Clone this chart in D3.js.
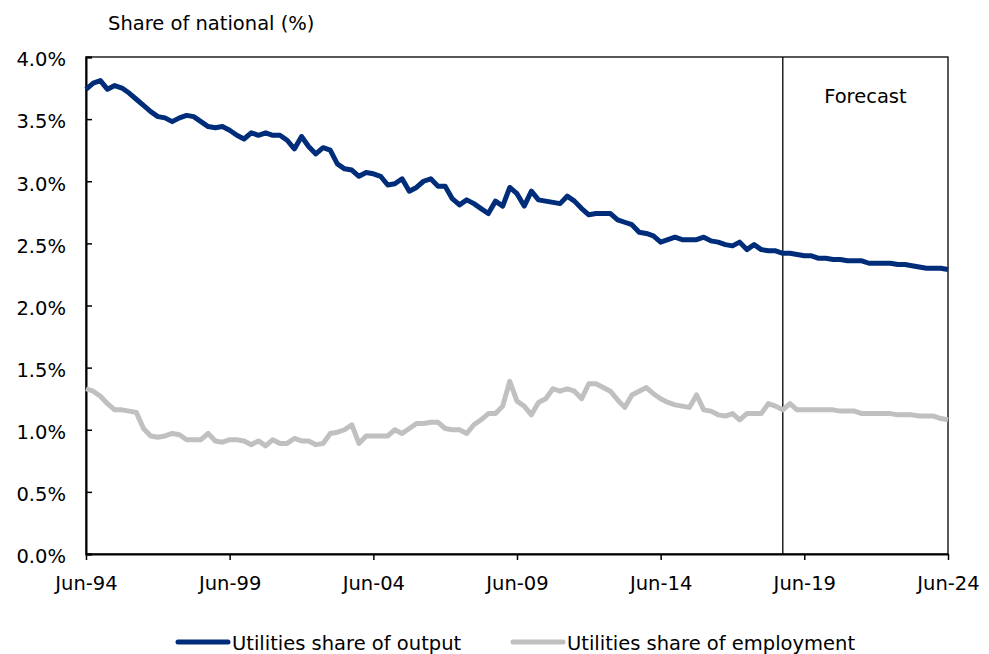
<!DOCTYPE html>
<html>
<head>
<meta charset="utf-8">
<script src="https://cdn.jsdelivr.net/npm/d3@7"></script>
<style>
  body { margin: 0; background: #fff; }
  svg text { font-family: "DejaVu Sans", Verdana, sans-serif; font-size: 19.5px; fill: #000; }
</style>
</head>
<body>
<script>
// quarterly, Jun-94 .. Jun-24
const startDate = new Date(1994, 5, 1);
const forecastStart = new Date(2018, 8, 1);

const outputShare = [
  3.74,3.79,3.81,3.74,3.77,3.75,3.71,3.66,3.61,3.56,
  3.52,3.51,3.48,3.51,3.53,3.52,3.48,3.44,3.43,3.44,
  3.41,3.37,3.34,3.39,3.37,3.39,3.37,3.37,3.33,3.26,
  3.36,3.28,3.22,3.27,3.25,3.14,3.10,3.09,3.04,3.07,
  3.06,3.04,2.97,2.98,3.02,2.92,2.95,3.00,3.02,2.96,
  2.96,2.86,2.81,2.85,2.82,2.78,2.74,2.84,2.80,2.95,
  2.90,2.80,2.92,2.85,2.84,2.83,2.82,2.88,2.84,2.78,
  2.73,2.74,2.74,2.74,2.69,2.67,2.65,2.59,2.58,2.56,
  2.51,2.53,2.55,2.53,2.53,2.53,2.55,2.52,2.51,2.49,
  2.48,2.51,2.45,2.49,2.45,2.44,2.44,2.42,2.42,2.41,
  2.40,2.40,2.38,2.38,2.37,2.37,2.36,2.36,2.36,2.34,
  2.34,2.34,2.34,2.33,2.33,2.32,2.31,2.30,2.30,2.30,
  2.29
];

const employmentShare = [
  1.33,1.31,1.27,1.21,1.16,1.16,1.15,1.14,1.01,0.95,
  0.94,0.95,0.97,0.96,0.92,0.92,0.92,0.97,0.91,0.90,
  0.92,0.92,0.91,0.88,0.91,0.87,0.92,0.89,0.89,0.93,
  0.91,0.91,0.88,0.89,0.97,0.98,1.00,1.04,0.89,0.95,
  0.95,0.95,0.95,1.00,0.97,1.01,1.05,1.05,1.06,1.06,
  1.01,1.00,1.00,0.97,1.04,1.08,1.13,1.13,1.19,1.39,
  1.23,1.19,1.12,1.22,1.25,1.33,1.31,1.33,1.31,1.25,
  1.37,1.37,1.34,1.31,1.24,1.18,1.28,1.31,1.34,1.29,
  1.25,1.22,1.20,1.19,1.18,1.28,1.16,1.15,1.12,1.11,
  1.13,1.08,1.13,1.13,1.13,1.21,1.19,1.16,1.21,1.16,
  1.16,1.16,1.16,1.16,1.16,1.15,1.15,1.15,1.13,1.13,
  1.13,1.13,1.13,1.12,1.12,1.12,1.11,1.11,1.11,1.09,
  1.08
];

const xTickYears = [1994, 1999, 2004, 2009, 2014, 2019, 2024];
const yTicks = [0, 0.5, 1.0, 1.5, 2.0, 2.5, 3.0, 3.5, 4.0];

const seriesNames = ['Utilities share of output', 'Utilities share of employment'];
const seriesColors = ['#002d7a', '#c0c0c0'];

const dates = outputShare.map((_, i) => d3.timeMonth.offset(startDate, 3 * i));

const W = 989, H = 654;
const plot = { left: 86, right: 948, top: 57, bottom: 554 };
const fontFamily = '"DejaVu Sans", Verdana, sans-serif';

const svg = d3.select('body').append('svg')
  .attr('width', W)
  .attr('height', H);

svg.append('rect').attr('width', W).attr('height', H).attr('fill', '#fff');

const x = d3.scaleTime()
  .domain([startDate, dates[dates.length - 1]])
  .range([plot.left, plot.right]);

const y = d3.scaleLinear()
  .domain([0, 4])
  .range([plot.bottom, plot.top]);

// plot frame
svg.append('rect')
  .attr('x', plot.left).attr('y', plot.top)
  .attr('width', plot.right - plot.left).attr('height', plot.bottom - plot.top)
  .attr('fill', 'none')
  .attr('stroke', '#000')
  .attr('stroke-width', 1.3);

// forecast divider
svg.append('line')
  .attr('x1', x(forecastStart)).attr('x2', x(forecastStart))
  .attr('y1', plot.top).attr('y2', plot.bottom)
  .attr('stroke', '#000')
  .attr('stroke-width', 1.3);

svg.append('text')
  .attr('x', (x(forecastStart) + plot.right) / 2)
  .attr('y', 103)
  .attr('text-anchor', 'middle')
  .text('Forecast');

// y axis, ticks point inward
const yAxis = svg.append('g')
  .attr('transform', `translate(${plot.left},0)`)
  .call(d3.axisLeft(y)
    .tickValues(yTicks)
    .tickSize(-6)
    .tickPadding(20)
    .tickFormat(d => d3.format('.1f')(d) + '%'));
yAxis.select('.domain').attr('stroke', '#000').attr('stroke-width', 2);
yAxis.selectAll('.tick line').attr('stroke', '#000').attr('stroke-width', 1.5);
yAxis.selectAll('text')
  .attr('x', 66 - plot.left)
  .attr('dy', '0.45em')
  .style('font-family', fontFamily)
  .style('font-size', '19.5px');

// x axis, ticks point outward
const xAxis = svg.append('g')
  .attr('transform', `translate(0,${plot.bottom})`)
  .call(d3.axisBottom(x)
    .tickValues(xTickYears.map(yr => new Date(yr, 5, 1)))
    .tickSize(6)
    .tickSizeOuter(0)
    .tickFormat(d3.timeFormat('%b-%y')));
xAxis.select('.domain').attr('stroke', '#000').attr('stroke-width', 2);
xAxis.selectAll('.tick line').attr('stroke', '#000').attr('stroke-width', 1.5);
xAxis.selectAll('text')
  .attr('y', 36)
  .attr('dy', 0)
  .style('font-family', fontFamily)
  .style('font-size', '19.5px');

// lines
const line = d3.line()
  .x((d, i) => x(dates[i]))
  .y(d => y(d));

[employmentShare, outputShare].forEach((vals, k) => {
  svg.append('path')
    .datum(vals)
    .attr('fill', 'none')
    .attr('stroke', seriesColors[1 - k])
    .attr('stroke-width', 5)
    .attr('stroke-linejoin', 'round')
    .attr('d', line);
});

// title
svg.append('text')
  .attr('x', 108)
  .attr('y', 30)
  .text('Share of national (%)');

// legend
const legendX = [178, 513];
seriesNames.forEach((name, i) => {
  const g = svg.append('g').attr('transform', `translate(${legendX[i]},642)`);
  g.append('line')
    .attr('x1', 0).attr('x2', 50)
    .attr('stroke', seriesColors[i])
    .attr('stroke-width', 5)
    .attr('stroke-linecap', 'round');
  g.append('text')
    .attr('x', 54)
    .attr('y', 8)
    .text(name);
});
</script>
</body>
</html>
